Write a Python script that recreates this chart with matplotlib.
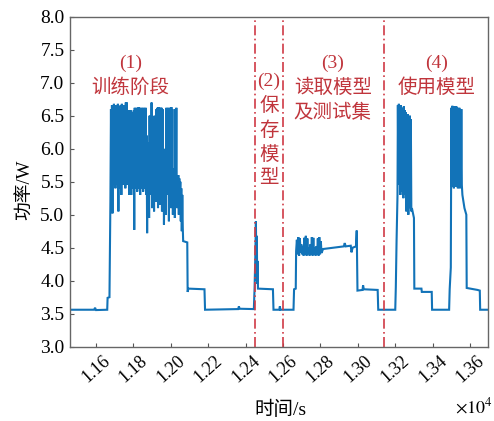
import numpy as np
import matplotlib
matplotlib.use("Agg")
import matplotlib.pyplot as plt

plt.rcParams['font.family'] = ['Liberation Serif', 'Noto Sans CJK SC']
plt.rcParams['mathtext.fontset'] = 'stix'

# ---- data (time in s, power in W) ----
pre_t = [11460, 11590, 11595, 11600, 11660, 11662, 11672, 11677]
pre_v = [3.56, 3.56, 3.59, 3.555, 3.56, 3.74, 3.75, 5.2]

train_start, train_end = 11680, 12064
train_v = [6.6, 5.45, 6.66, 5.02, 6.64, 5.45, 6.68, 5.5, 6.65, 5.4, 6.66, 5.45, 6.62, 5.45, 6.68, 5.05,
           6.65, 5.4, 6.64, 5.45, 6.66, 5.3, 6.68, 5.45, 6.63, 5.5, 6.66, 5.45, 6.65, 5.4, 6.70, 5.45,
           6.7, 5.45, 6.5, 5.5, 6.58, 5.3, 6.45, 5.45, 6.58, 5.3, 6.55, 5.45, 6.5, 5.4, 6.58, 4.77,
           6.62, 5.4, 6.6, 5.45, 6.62, 5.35, 6.6, 5.4, 6.63, 5.45, 6.62, 5.3,
           6.6, 5.4, 6.62, 5.45, 6.6, 5.35, 6.62, 5.4, 6.61, 5.45, 6.62, 5.3,
           6.2, 4.72, 5.9, 5.3, 6.1, 4.95, 6.5, 5.3,
           6.5, 5.3, 6.7, 5.1, 6.45, 5.35, 6.0, 5.05, 6.5, 5.3, 5.8, 5.2,
           6.6, 5.4, 6.62, 5.1, 6.63, 5.4, 6.6, 5.15, 6.62, 5.4, 6.62, 5.05, 6.6, 5.35, 5.9, 4.85, 5.6, 5.2, 6.0, 5.0,
           6.62, 5.3, 6.6, 5.45, 6.62, 4.9, 6.6, 5.4, 6.62, 5.1, 6.63, 5.45, 6.6, 5.0, 5.6, 5.3, 5.7, 4.95, 6.6, 5.45,
           6.62, 5.1, 5.6, 5.2,
           5.6, 5.0, 5.55, 5.2, 5.5, 4.9, 5.4, 4.75, 5.3, 4.8]

mid1_t = [12066, 12088, 12090, 12094, 12180, 12183, 12360, 12364, 12368, 12444,
          12448, 12452, 12455, 12458, 12460, 12462, 12464, 12466, 12546, 12549,
          12580, 12583, 12586, 12656, 12659, 12668]
mid1_v = [4.6, 4.58, 3.83, 3.88, 3.87, 3.56, 3.57, 3.61, 3.575, 3.57,
          3.9, 4.4, 4.9, 4.0, 4.68, 3.95, 4.3, 3.88, 3.87, 3.56,
          3.56, 3.61, 3.56, 3.56, 3.87, 3.88]

read_start, read_end = 12670, 12810
read_v = [4.45, 4.62, 4.4, 4.66, 4.38, 4.64, 4.42, 4.55, 4.4, 4.52, 4.38, 4.65, 4.4, 4.68, 4.38, 4.64, 4.42, 4.5,
          4.38, 4.55, 4.4, 4.66, 4.38, 4.65, 4.4, 4.5, 4.38, 4.52, 4.4, 4.64, 4.38, 4.66, 4.4, 4.6, 4.42, 4.45]

mid2_t = [12814, 12925, 12930, 12935, 12962, 12966, 12972, 12990, 12994, 12998,
          13025, 13028, 13032, 13106, 13109, 13200, 13203, 13207, 13212]
mid2_v = [4.48, 4.52, 4.57, 4.52, 4.53, 4.43, 4.5, 4.52, 4.76, 3.85,
          3.86, 3.93, 3.87, 3.86, 3.56, 3.56, 3.9, 4.6, 5.3]

use1_start, use1_end = 13214, 13286
use1_v = [6.66, 5.45, 6.68, 5.5, 6.62, 5.3, 6.66, 5.45, 6.6, 5.35, 6.62, 5.25, 6.64, 5.45,
          6.58, 5.3, 6.55, 5.05, 6.5, 5.3, 6.52, 5.0, 6.48, 5.2, 6.5, 5.1, 6.45, 5.05]

mid3_t = [13289, 13300, 13302, 13340, 13342, 13395, 13397, 13488, 13491, 13497]
mid3_v = [5.1, 4.95, 3.88, 3.88, 3.83, 3.83, 3.56, 3.56, 3.87, 4.2]

use2_start, use2_end = 13500, 13556
use2_v = [6.62, 5.42, 6.65, 5.45, 6.62, 5.4, 6.64, 5.45, 6.62, 5.42, 6.64,
          5.45, 6.62, 5.4, 6.6, 5.45, 6.62, 5.4, 6.55, 5.42, 6.6, 5.45]

post_t = [13559, 13570, 13580, 13582, 13640, 13652, 13654, 13700]
post_v = [5.3, 5.1, 5.0, 3.89, 3.86, 3.85, 3.56, 3.56]

phase_bounds = [12450, 12598, 13140]
xticks = [11600, 11800, 12000, 12200, 12400, 12600, 12800, 13000, 13200, 13400, 13600]
xtick_labels = ['1.16', '1.18', '1.20', '1.22', '1.24', '1.26', '1.28', '1.30', '1.32', '1.34', '1.36']
yticks = [3.0, 3.5, 4.0, 4.5, 5.0, 5.5, 6.0, 6.5, 7.0, 7.5, 8.0]

# ---- assemble series ----
t = np.concatenate([
    pre_t,
    np.linspace(train_start, train_end, len(train_v)),
    mid1_t,
    np.linspace(read_start, read_end, len(read_v)),
    mid2_t,
    np.linspace(use1_start, use1_end, len(use1_v)),
    mid3_t,
    np.linspace(use2_start, use2_end, len(use2_v)),
    post_t,
])
v = np.concatenate([pre_v, train_v, mid1_v, read_v, mid2_v, use1_v, mid3_v, use2_v, post_v])

fig = plt.figure(figsize=(4.94, 4.21), dpi=100)
ax = fig.add_axes([0.1417, 0.1765, 0.9879 - 0.1417, 0.9603 - 0.1765])

ax.plot(t, v, color='#1273b8', lw=1.5, solid_joinstyle='miter')

red = '#cf3a45'
for b in phase_bounds:
    ax.axvline(b, color=red, lw=1.2, ls=(0, (6, 2, 1, 2)))

ax.set_xlim(11461, 13696)
ax.set_ylim(3.0, 8.0)
ax.set_yticks(yticks)
ax.set_yticklabels([f'{y:.1f}' for y in yticks], fontsize=14)
ax.set_xticks(xticks)
ax.set_xticklabels(xtick_labels, fontsize=13, rotation=42)
ax.tick_params(direction='in', length=3, color='#555555', pad=4)
for s in ax.spines.values():
    s.set_color('#666666')
    s.set_linewidth(1.0)

ax.set_ylabel('功率/W', fontsize=13.5)
ax.yaxis.set_label_coords(-0.085, 0.475)
fig.text(280 / 494, 1 - 410 / 421, '时间/s', fontsize=14, ha='center', va='center')
fig.text(474 / 494, 1 - 407 / 421, r'$\times10^{4}$', fontsize=13, ha='center', va='center')

tk = dict(color='#c0353c', fontsize=14, ha='center', va='center')
ax.text(11785, 7.3, '(1)', **tk)
ax.text(11785, 6.93, '训练阶段', **tk)
ax.text(12524, 7.02, '(2)', **tk)
ax.text(12524, 6.65, '保', **tk)
ax.text(12524, 6.27, '存', **tk)
ax.text(12524, 5.9, '模', **tk)
ax.text(12524, 5.55, '型', **tk)
ax.text(12866, 7.3, '(3)', **tk)
ax.text(12866, 6.93, '读取模型', **tk)
ax.text(12866, 6.55, '及测试集', **tk)
ax.text(13421, 7.3, '(4)', **tk)
ax.text(13421, 6.93, '使用模型', **tk)

fig.savefig('out.png', dpi=100)
